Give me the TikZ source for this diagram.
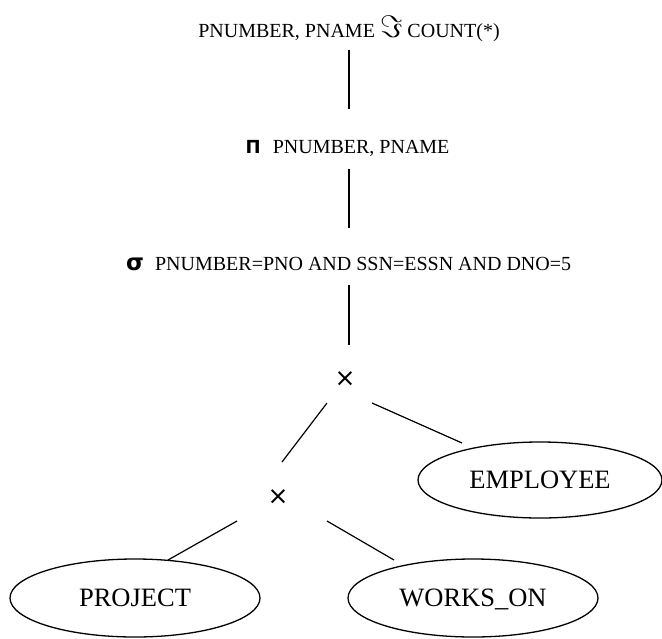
\documentclass[tikz,border=0pt]{standalone}
\usepackage{graphicx}
\usepackage{fontspec}
\setmainfont{Liberation Serif}
\newfontfamily\symb{DejaVu Sans}
\usetikzlibrary{shapes.geometric,calc}
\begin{document}
\begin{tikzpicture}[x=1pt,y=-1pt,
  lbl/.style={inner sep=0pt,font=\fontsize{20}{24}\selectfont,text height=13.2pt,text depth=0pt},
  opx/.style={inner sep=0pt,font=\symb\fontsize{25}{25}\selectfont},
  rel/.style={ellipse,draw,line width=1.3pt,inner sep=0pt,font=\fontsize{26.5}{30}\selectfont,text height=17.5pt,text depth=0pt},
  edge/.style={line width=1.2pt}]
\useasboundingbox (0,0) rectangle (662,638);
\node[lbl] (agg) at (349,31) {PNUMBER, PNAME\hspace{5pt}\raisebox{0.5pt}{\scalebox{1.5}{$\Im$}}\hspace{5pt}COUNT(*)};
\node[lbl,anchor=west] (proj) at (245.5,146.5) {{\symb\bfseries\fontsize{18}{18}\selectfont Π}\hspace{12pt}PNUMBER, PNAME};
\node[lbl,anchor=west] (sel) at (126,263.5) {{\symb\bfseries\fontsize{23}{23}\selectfont σ}\hspace{11pt}PNUMBER=PNO AND SSN=ESSN AND DNO=5};
\node[opx] (c1) at (345,379) {×};
\node[opx] (c2) at (278,497) {×};
\node[rel,minimum width=244pt,minimum height=76pt] (emp) at (540,480) {EMPLOYEE};
\node[rel,minimum width=250pt,minimum height=78pt] (prj) at (135,598) {PROJECT};
\node[rel,minimum width=250pt,minimum height=78pt] (won) at (473,598) {WORKS\_ON};
\draw[edge] ($(agg.south)+(0,12)$) -- ($(agg.south |- proj.north)+(0,-31)$);
\draw[edge] ($(agg.south |- proj.south)+(0,16)$) -- ($(agg.south |- sel.north)+(0,-29)$);
\draw[edge] ($(agg.south |- sel.south)+(0,15)$) -- ($(agg.south |- c1.center)+(0,-34)$);
\draw[edge] ($(c1)+(-18,24)$) -- ($(c2)+(4,-35)$);
\draw[edge] ($(c1)+(27,24)$) -- ($(emp)+(-78,-37)$);
\draw[edge] ($(c2)+(-41,24)$) -- ($(prj)+(33,-38)$);
\draw[edge] ($(c2)+(49,24)$) -- ($(won)+(-79,-38)$);
\end{tikzpicture}
\end{document}
